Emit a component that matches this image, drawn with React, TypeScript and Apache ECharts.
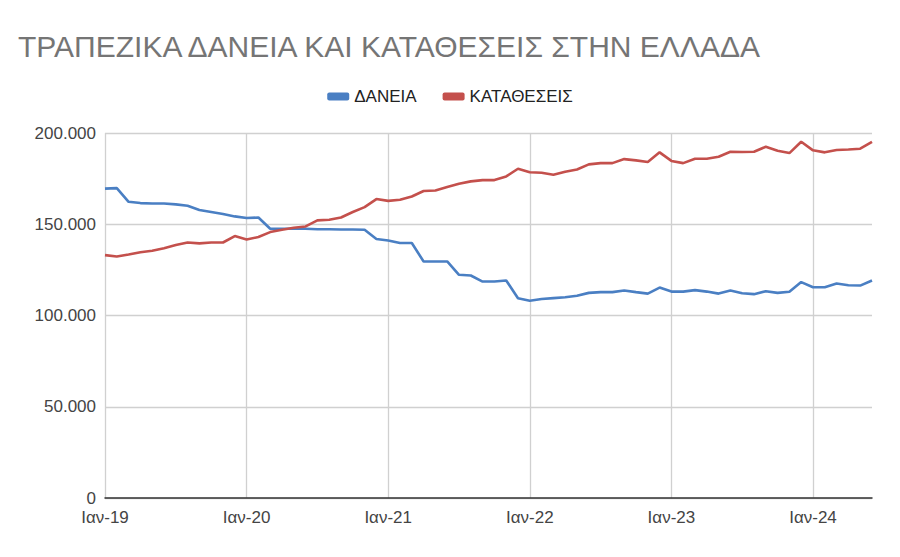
import React, { useEffect, useRef } from "react";
import * as echarts from "echarts";

const years = ["19", "20", "21", "22", "23", "24"];
const months = ["Ιαν", "Φεβ", "Μαρ", "Απρ", "Μαϊ", "Ιουν", "Ιουλ", "Αυγ", "Σεπ", "Οκτ", "Νοε", "Δεκ"];
const monthCount = 66;

const loans = [
  169500, 169800, 162300, 161600, 161400, 161400, 160900, 160100, 157800, 156700, 155600, 154300,
  153400, 153700, 147500, 147500, 147500, 147500, 147300, 147300, 147100, 147100, 147000, 141900,
  141100, 139700, 139700, 129600, 129600, 129600, 122300, 121900, 118600, 118600, 119200, 109500,
  108100, 109000, 109500, 110000, 110800, 112400, 112800, 112800, 113700, 112800, 112000, 115300,
  113100, 113100, 113900, 113100, 112000, 113700, 112200, 111700, 113300, 112400, 113000, 118300,
  115500, 115500, 117500, 116600, 116400, 119200,
];

const deposits = [
  133100, 132300, 133400, 134700, 135500, 136900, 138600, 140000, 139500, 140000, 140000, 143500,
  141600, 143000, 145700, 147000, 148100, 148800, 152100, 152500, 153700, 156700, 159400, 163800,
  162800, 163400, 165200, 168200, 168500, 170400, 172200, 173500, 174200, 174200, 176200, 180400,
  178500, 178200, 177100, 178800, 180000, 182800, 183500, 183500, 185700, 185000, 184100, 189400,
  184700, 183500, 185900, 185900, 187000, 189700, 189600, 189700, 192500, 190300, 189000, 195200,
  190500, 189400, 190700, 191000, 191400, 195200,
];

const yTicks = [0, 50000, 100000, 150000, 200000];

const categories: string[] = [];
for (let i = 0; i < monthCount; i++) {
  categories.push(`${months[i % 12]}-${years[Math.floor(i / 12)]}`);
}

const fmt = (v: number) => String(Math.round(v)).replace(/\B(?=(\d{3})+(?!\d))/g, ".");

const FONT = "'Liberation Sans', Arial, sans-serif";

export default function App() {
  const ref = useRef<HTMLDivElement>(null);
  useEffect(() => {
    if (!ref.current) return;
    const chart = echarts.init(ref.current, undefined, { renderer: "svg" });
    chart.setOption({
      animation: false,
      backgroundColor: "#ffffff",
      title: {
        text: "ΤΡΑΠΕΖΙΚΑ ΔΑΝΕΙΑ ΚΑΙ ΚΑΤΑΘΕΣΕΙΣ ΣΤΗΝ ΕΛΛΑΔΑ",
        left: 18,
        top: 31,
        padding: 0,
        textStyle: { fontFamily: FONT, fontSize: 30, fontWeight: "normal", color: "#757575" },
      },
      legend: {
        top: 83,
        left: "center",
        itemWidth: 22,
        itemHeight: 8,
        itemGap: 26,
        icon: "roundRect",
        textStyle: { fontFamily: FONT, fontSize: 17, color: "#222222" },
        data: ["ΔΑΝΕΙΑ", "ΚΑΤΑΘΕΣΕΙΣ"],
      },
      grid: { left: 105, right: 28, top: 133, bottom: 59, containLabel: false },
      xAxis: {
        type: "category",
        data: categories,
        boundaryGap: false,
        axisLine: { show: true, lineStyle: { color: "#333333", width: 1.5 } },
        axisTick: { show: false },
        axisLabel: {
          interval: 11,
          margin: 11,
          fontFamily: FONT,
          fontSize: 17,
          color: "#444444",
        },
        splitLine: { show: true, interval: 11, lineStyle: { color: "#d0d0d0", width: 1.3 } },
      },
      yAxis: {
        type: "value",
        min: yTicks[0],
        max: yTicks[yTicks.length - 1],
        interval: 50000,
        axisLine: { show: false },
        axisTick: { show: false },
        axisLabel: {
          margin: 9,
          fontFamily: FONT,
          fontSize: 17,
          color: "#444444",
          formatter: (v: number) => fmt(v),
        },
        splitLine: { show: true, lineStyle: { color: "#d0d0d0", width: 1.3 } },
      },
      series: [
        {
          name: "ΔΑΝΕΙΑ",
          type: "line",
          data: loans,
          showSymbol: false,
          symbol: "none",
          itemStyle: { color: "#4a7fc3" },
          lineStyle: { color: "#4a7fc3", width: 2.6 },
        },
        {
          name: "ΚΑΤΑΘΕΣΕΙΣ",
          type: "line",
          data: deposits,
          showSymbol: false,
          symbol: "none",
          itemStyle: { color: "#c4504c" },
          lineStyle: { color: "#c4504c", width: 2.6 },
        },
      ],
    });
    return () => chart.dispose();
  }, []);
  return <div ref={ref} style={{ width: 900, height: 557, margin: -8 }} />;
}
